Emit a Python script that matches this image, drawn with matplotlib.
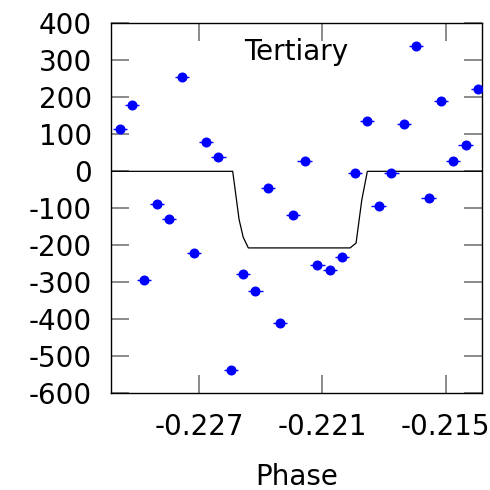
import matplotlib
matplotlib.use("Agg")
import matplotlib.pyplot as plt
import numpy as np

plt.rcParams["axes.unicode_minus"] = False

# Radial-velocity residuals of the tertiary component against orbital phase
phase = [-0.23084, -0.23026, -0.22966, -0.22904, -0.22846, -0.22784, -0.22723,
         -0.22666, -0.22606, -0.22544, -0.22485, -0.22426, -0.22364, -0.22305,
         -0.22244, -0.22186, -0.22124, -0.22064, -0.22004, -0.21942, -0.21884,
         -0.21826, -0.21764, -0.21704, -0.21644, -0.21583, -0.21524, -0.21464,
         -0.21403, -0.21343]
rv = [114, 179, -295, -87, -130, 256, -220, 78, 38, -536, -277, -324, -46, -409,
      -119, 27, -253, -268, -231, -5, 136, -95, -5, 127, 338, -73, 189, 29, 72, 223]
phase_err = 0.00035

# Model eclipse profile
model_phase = [-0.2313, -0.22536, -0.22505, -0.22485, -0.22460, -0.21965,
               -0.21936, -0.21908, -0.21881, -0.2130]
model_rv = [0, 0, -130, -178, -207, -207, -194, -77, 0, 0]

xticks = [-0.227, -0.221, -0.215]
yticks = list(range(-600, 401, 100))

fig = plt.figure(figsize=(4.9, 4.9), dpi=100)
ax = fig.add_axes([0.2271, 0.1973, 0.7559, 0.7551])

ax.plot(model_phase, model_rv, color="black", lw=0.9, zorder=2)
ax.errorbar(phase, rv, xerr=phase_err, fmt="o", color="blue", ms=6.2,
            elinewidth=1.0, capsize=0, zorder=3)

ax.set_xlim(-0.231266, -0.21325)
ax.set_ylim(-600, 400)
ax.set_xticks(xticks)
ax.set_xticklabels([f"{t:.3f}" for t in xticks])
ax.set_yticks(yticks)
ax.tick_params(direction="in", length=13, width=1.2, color="#777777",
               labelsize=20, top=True, right=True, pad=14)
for s in ax.spines.values():
    s.set_linewidth(1.0)

ax.set_xlabel("Phase", fontsize=20, labelpad=16)
ax.text(0.5, 0.922, "Tertiary", transform=ax.transAxes, ha="center",
        va="center", fontsize=20)

fig.savefig("out.png", dpi=100)
